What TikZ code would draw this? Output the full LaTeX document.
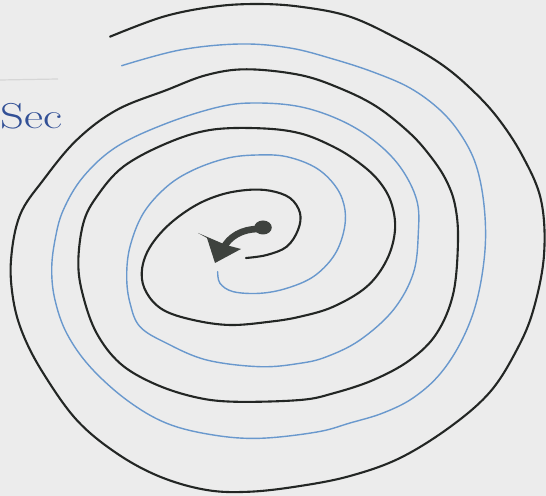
\documentclass[tikz,border=0pt]{standalone}
\usepackage{tikz}
\usetikzlibrary{positioning}
\definecolor{paper}{RGB}{236,236,236}
\definecolor{inkblack}{RGB}{35,38,36}
\definecolor{inkblue}{RGB}{105,152,205}
\definecolor{penblue}{RGB}{50,80,150}
\definecolor{blobgray}{RGB}{62,66,62}
\definecolor{faintline}{RGB}{214,214,214}

\begin{document}
\begin{tikzpicture}[
  x=0.5pt, y=-0.5pt,
  blackline/.style={draw=inkblack, line width=1.05pt, line cap=round, line join=round},
  blueline/.style ={draw=inkblue, line width=0.7pt, line cap=round, line join=round},
  marker/.style   ={fill=blobgray},
  shaft/.style    ={draw=blobgray, line width=3.3pt, line cap=round},
  handtext/.style ={text=penblue, inner sep=0pt, font=\fontsize{18}{18}\selectfont},
]
\useasboundingbox[fill=paper] (0,0) rectangle (546,496);

% faint ruling at the left
\draw[faintline, line width=0.6pt] (0,80) -- (58,79);

% label
\node[handtext, anchor=base east] (seclabel) at (63,129) {\scalebox{1.3}[1]{Sec}};

% black spiral, from the centre outwards
\draw[blackline] plot[smooth, tension=0.6] coordinates {
  (246,258) (266.7,255) (286.7,246.7) (298,230) (300,213) (290,198)
  (270,190.7) (246.7,190) (220,195) (193.3,206.7) (166.7,226.7)
  (148.3,250) (141.7,273) (146.7,293) (163.3,310) (193.3,320)
  (230,325) (270,321.7) (300,316.7) (333.3,306.7) (366.7,286.7)
  (386.7,260) (395,230) (391,202) (378,180) (358,162)
  (333.3,146.7) (300,133.3) (260,128.3) (210,130) (166.7,143.3)
  (123.3,166.7) (96.7,196.7) (83.3,223.3) (78.3,263.3) (83.3,296.7)
  (96.7,333.3) (120,363.3) (153.3,383.3) (193.3,396.7) (233.3,401.7)
  (300,400) (333.3,393.3) (373.3,380) (410,360) (436.7,333.3)
  (453.3,293.3) (458,240) (455,205) (446,180) (431,157) (410,133.3)
  (376.7,106.7) (340,88.3) (300,75) (246.7,69.3) (206.7,75)
  (166.7,90) (116.7,110) (76.7,140) (43.3,180) (20,215)
  (11,260) (13.3,300) (23.3,335) (43.3,373.3) (76.7,420)
  (116.7,453.3) (160,476.7) (206.7,490) (250,491.7)
  (300,486) (350,476) (400,458) (450,427) (490,392)
  (516.7,350) (533.3,310) (544,255) (541,200) (522,155)
  (497,117) (470,88) (440,63.3) (400,40) (350,16.7) (300,6.7)
  (256.7,4) (213.3,6.7) (163.3,16.7) (110,36.7)};

% blue spiral, from the centre outwards
\draw[blueline] plot[smooth, tension=0.6] coordinates {
  (217.7,271.7) (220,283.3) (233.3,291.7) (260,293.3) (286.7,288.3)
  (313.3,276.7) (333.3,256.7) (343.3,233.3) (345,210) (336.7,188)
  (316.7,168.3) (286.7,156.7) (256.7,155) (226.7,158.3) (193.3,170)
  (166.7,186.7) (143.3,213.3) (130,246.7) (126.7,276.7) (130,303)
  (140,326.7) (166.7,343.3) (206.7,360) (260,366.7) (300,363.3)
  (326.7,356.7) (360,340) (393.3,310) (413.3,273.3) (418.3,233.3)
  (416.7,200) (400,166.7) (373.3,140) (340,120) (300,106.7)
  (256.7,103) (220,106.7) (166.7,123.3) (116.7,146.7) (83.3,176.7)
  (63.3,210) (55,240) (51.7,270) (55,300) (66.7,333.3) (90,366.7)
  (126.7,400) (166.7,423.3) (213.3,435) (260,438.3)
  (317,432) (350,423) (383,413) (413,398) (440,374) (462,340)
  (477,300) (485,250) (484,205) (476,165) (461,135) (440,110)
  (410,88) (373,72) (333,59) (290,48) (240,44) (180,50) (121.7,65.7)};

% curled arrow in the middle
\fill[marker] (263,227.5) ellipse [x radius=4.4pt, y radius=3.5pt];
\draw[shaft] (258,229) .. controls (243,229) and (229,236) .. (223,249);
\fill[marker] (198,233) -- (207,238) -- (215,263) -- (241,249)
  -- (226,245) -- cycle;
\end{tikzpicture}
\end{document}
